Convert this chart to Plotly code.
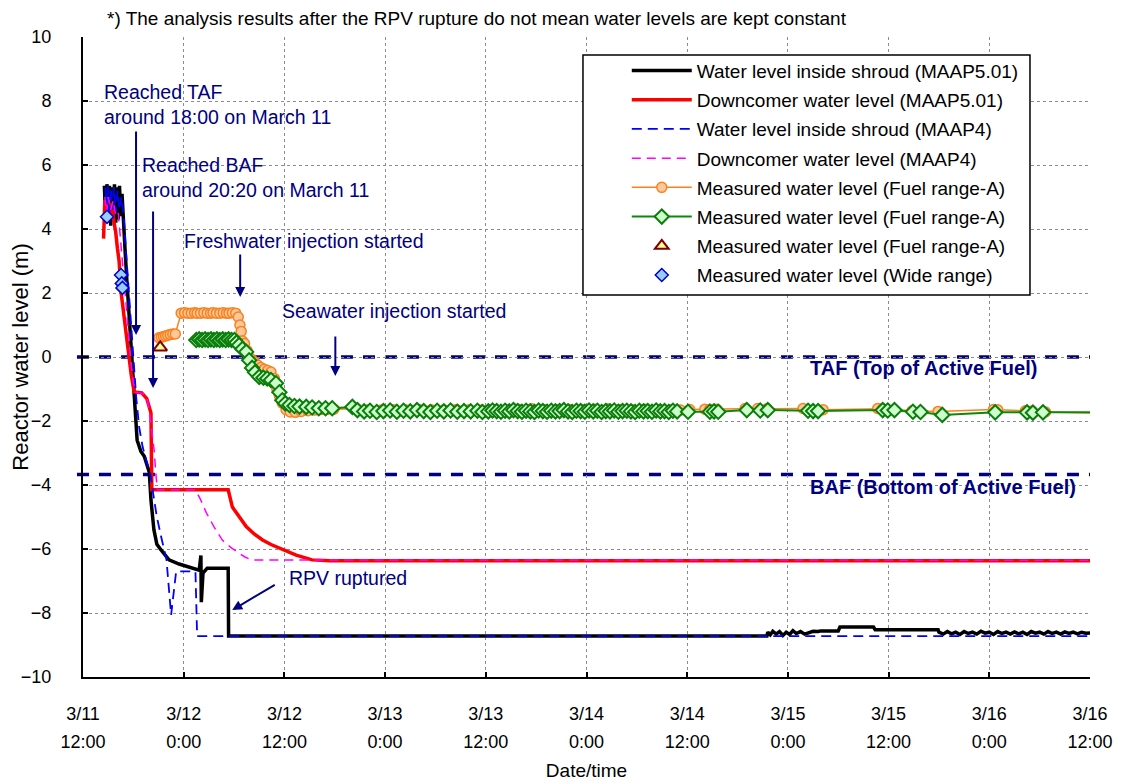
import plotly.graph_objects as go

# time axis: hours after 3/11 12:00
TICK_HOURS = [0, 12, 24, 36, 48, 60, 72, 84, 96, 108, 120]
TICK_DATES = ["3/11", "3/12", "3/12", "3/13", "3/13", "3/14", "3/14", "3/15", "3/15", "3/16", "3/16"]
TICK_TIMES = ["12:00", "0:00", "12:00", "0:00", "12:00", "0:00", "12:00", "0:00", "12:00", "0:00", "12:00"]

TAF_LEVEL = 0.0
BAF_LEVEL = -3.67

# Water level inside shroud (MAAP5.01)
shroud5_t = [2.55, 2.7, 2.85, 3.0, 3.15, 3.3, 3.45, 3.6, 3.75, 3.9, 4.05, 4.2, 4.35, 4.5, 4.65, 4.8,
             5.0, 5.2, 5.45, 5.65, 5.9, 6.1, 6.3, 6.45, 6.9, 7.3, 7.9, 8.1, 8.45, 8.8, 9.3, 10.25,
             11.45, 12.65, 13.85, 14.05, 14.1, 14.3, 14.8, 17.3, 17.35, 81.5,
             81.6, 81.9, 82.2, 82.6, 83.0, 83.4, 83.8, 84.2, 84.6, 85.0, 85.5, 86.0, 86.5, 87.0,
             87.6, 87.9, 90.0, 90.2, 94.2, 94.4, 101.9, 102.0,
             102.5, 103.0, 103.5, 104.0, 104.5, 105.0, 105.5, 106.0, 106.5, 107.0, 107.5, 108.0,
             108.5, 109.0, 109.5, 110.0, 110.5, 111.0, 111.5, 112.0, 112.5, 113.0, 113.5, 114.0,
             114.5, 115.0, 115.5, 116.0, 116.5, 117.0, 117.5, 118.0, 118.5, 119.0, 119.5, 120.5]
shroud5_v = [5.35, 4.2, 5.4, 4.5, 5.35, 4.1, 5.3, 4.4, 5.4, 4.2, 5.3, 4.3, 5.35, 4.4, 5.1, 4.1,
             3.4, 2.5, 1.5, 0.7, -0.2, -1.3, -2.2, -2.6, -2.95, -3.1, -3.6, -4.47, -5.4, -5.85, -6.03, -6.34,
             -6.47, -6.56, -6.66, -6.2, -7.66, -6.75, -6.6, -6.6, -8.72, -8.72,
             -8.6, -8.68, -8.57, -8.66, -8.58, -8.7, -8.6, -8.67, -8.55, -8.64, -8.58, -8.66, -8.6, -8.57,
             -8.58, -8.56, -8.56, -8.44, -8.44, -8.52, -8.52, -8.6,
             -8.66, -8.58, -8.65, -8.6, -8.67, -8.58, -8.64, -8.6, -8.66, -8.57, -8.63, -8.6,
             -8.67, -8.58, -8.64, -8.6, -8.66, -8.59, -8.65, -8.6, -8.67, -8.58, -8.63, -8.6,
             -8.66, -8.58, -8.64, -8.6, -8.66, -8.59, -8.64, -8.6, -8.65, -8.6, -8.63, -8.62]

# Downcomer water level (MAAP5.01)
down5_t = [2.45, 2.6, 2.8, 3.0, 3.2, 3.4, 3.7, 3.9, 4.1, 4.3, 4.55, 4.85, 5.15, 5.45, 5.75, 6.1,
           7.0, 7.6, 8.1, 8.2, 17.3, 17.8, 18.6, 19.45, 20.4, 21.4, 22.4, 23.4, 24.4, 25.4,
           26.4, 27.3, 29.4, 120.5]
down5_v = [3.7, 4.9, 4.4, 4.9, 4.5, 4.8, 4.2, 3.9, 3.4, 3.0, 2.0, 1.3, 0.7, 0.0, -0.56, -1.09,
           -1.12, -1.3, -1.75, -4.15, -4.15, -4.69, -5.0, -5.3, -5.53, -5.72, -5.86, -5.97, -6.09, -6.19,
           -6.27, -6.34, -6.37, -6.37]

# Water level inside shroud (MAAP4)
shroud4_t = [2.65, 2.8, 2.95, 3.1, 3.3, 3.5, 3.7, 3.9, 4.1, 4.3, 4.6, 4.9, 5.15, 5.4, 5.65, 5.9,
             6.1, 6.35, 6.7, 7.1, 7.6, 8.0, 8.3, 8.8, 9.3, 9.7, 9.95, 10.5, 11.1, 13.4, 13.6, 120.5]
shroud4_v = [5.3, 4.8, 5.35, 4.4, 5.3, 4.6, 5.3, 4.5, 5.2, 4.6, 5.0, 4.2, 3.2, 2.2, 1.2, 0.3,
             -0.5, -1.3, -2.2, -2.8, -3.3, -3.6, -4.16, -5.0, -5.6, -6.1, -6.34, -8.06, -6.7, -6.7, -8.72, -8.72]

# Downcomer water level (MAAP4)
down4_t = [2.6, 2.8, 3.0, 3.3, 3.6, 3.9, 4.2, 4.5, 4.8, 5.1, 5.4, 5.7, 6.0, 6.3, 7.2, 7.6,
           7.9, 8.2, 8.47, 8.7, 8.85, 13.4, 14.0, 14.7, 15.6, 16.6, 17.6, 18.6, 19.3, 20.1, 120.5]
down4_v = [5.0, 4.5, 5.0, 4.6, 4.9, 4.4, 4.5, 3.6, 2.6, 1.6, 0.7, -0.1, -0.8, -1.1, -1.15, -1.25,
           -1.66, -2.3, -2.9, -3.7, -4.15, -4.15, -4.45, -4.87, -5.3, -5.72, -5.95, -6.13, -6.25, -6.34, -6.35]

# Measured water level (Fuel range-A), circles
fuelA_t = [9.05, 9.35, 9.6, 9.85, 10.1, 10.4, 10.7, 11.0,
           11.7, 12.1, 12.5, 12.9, 13.3, 13.6, 14.0, 14.4, 14.8, 15.2, 15.5, 15.9, 16.3, 16.7,
           17.1, 17.4, 17.8, 18.2,
           18.5, 18.7, 18.85, 19.0, 19.25, 19.55, 19.8, 20.1, 20.4, 20.8, 21.2, 21.6, 22.0, 22.4,
           22.8, 23.1, 23.4, 23.75, 24.2, 24.7, 25.3, 26.0, 26.8, 27.6, 28.4, 29.2, 29.9,
           32.6, 34.0, 35.5, 37.0, 38.5, 40.0, 41.5, 43.0, 44.5, 46.0, 47.5, 49.0, 50.5, 52.0,
           53.5, 55.0, 56.5, 58.0, 59.5, 61.0, 62.5, 64.0, 65.5, 67.0, 68.5, 70.0, 71.2,
           72.3, 74.1, 74.7, 75.5, 78.9, 80.4, 81.5, 85.8, 88.2, 94.7, 95.3, 98.8, 101.9,
           108.5, 109.0, 112.3, 113.1, 114.7, 121.0]
fuelA_v = [0.6, 0.62, 0.64, 0.66, 0.68, 0.7, 0.72, 0.72,
           1.37, 1.38, 1.37, 1.37, 1.38, 1.37, 1.37, 1.38, 1.37, 1.37, 1.38, 1.37, 1.37, 1.38,
           1.37, 1.37, 1.38, 1.37,
           1.25, 1.0, 0.8, 0.5, 0.42, 0.2, 0.0, -0.08, -0.15, -0.25, -0.33, -0.38, -0.42, -0.47,
           -0.67, -1.0, -1.2, -1.44, -1.65, -1.72, -1.73, -1.7, -1.68, -1.66, -1.64, -1.63, -1.63,
           -1.62, -1.65, -1.66, -1.65, -1.66, -1.64, -1.65, -1.66, -1.64, -1.65, -1.66, -1.65, -1.66, -1.64,
           -1.62, -1.65, -1.66, -1.64, -1.65, -1.63, -1.62, -1.64, -1.65, -1.63, -1.64, -1.65, -1.66,
           -1.64, -1.63, -1.63, -1.63, -1.61, -1.61, -1.62, -1.61, -1.65, -1.61, -1.62, -1.68, -1.7,
           -1.64, -1.65, -1.68, -1.69, -1.72, -1.76]

# Measured water level (Fuel range-A), diamonds
fuelB_t = [13.5, 13.85, 14.2, 14.55, 14.9, 15.25, 15.6, 15.95, 16.3, 16.65, 17.0, 17.35, 17.7, 18.05,
           18.3, 18.6, 19.0, 19.45, 19.8, 20.15, 20.5, 21.0, 21.5, 21.95, 22.4, 23.0, 23.4, 23.75,
           24.1, 24.6, 25.2, 25.8, 26.6, 27.3, 28.1, 28.9, 29.7, 32.1,
           32.7, 33.5, 34.2, 35.0, 35.8, 36.6, 37.4, 38.2, 39.0, 39.8, 40.6, 41.4, 42.2, 43.0,
           43.8, 44.6, 45.4, 46.2, 47.0, 47.6, 48.3, 48.8, 49.3, 49.8, 50.3, 50.8, 51.3, 51.8,
           52.3, 52.8, 53.3, 53.8, 54.3, 54.8, 55.3, 55.8, 56.3, 56.8, 57.3, 57.8, 58.3, 58.8,
           59.3, 59.8, 60.3, 60.8, 61.3, 61.8, 62.3, 62.8, 63.3, 63.8, 64.3, 64.8, 65.3, 65.8,
           66.3, 66.8, 67.3, 67.8, 68.3, 68.8, 69.3, 69.8, 70.3, 70.8,
           72.1, 74.7, 75.2, 75.7, 79.1, 80.7, 81.6, 86.4, 87.0, 87.6, 95.3, 95.9, 96.7,
           98.9, 99.8, 102.4, 108.7, 112.5, 113.2, 114.4, 121.0]
fuelB_v = [0.53, 0.55, 0.53, 0.55, 0.53, 0.55, 0.53, 0.55, 0.53, 0.55, 0.53, 0.55, 0.53, 0.53,
           0.45, 0.37, 0.25, 0.16, -0.1, -0.34, -0.48, -0.62, -0.65, -0.67, -0.72, -0.82, -1.1, -1.35,
           -1.45, -1.5, -1.53, -1.55, -1.56, -1.58, -1.6, -1.6, -1.6, -1.56,
           -1.66, -1.7, -1.68, -1.72, -1.69, -1.67, -1.71, -1.68, -1.7, -1.66, -1.69, -1.72, -1.68, -1.7,
           -1.67, -1.71, -1.69, -1.7, -1.68, -1.72, -1.7, -1.67, -1.69, -1.71, -1.68, -1.7, -1.66, -1.69,
           -1.71, -1.68, -1.7, -1.72, -1.67, -1.69, -1.71, -1.68, -1.7, -1.69, -1.66, -1.7, -1.72, -1.68,
           -1.69, -1.71, -1.67, -1.7, -1.68, -1.72, -1.69, -1.7, -1.67, -1.71, -1.69, -1.68, -1.7, -1.72,
           -1.68, -1.7, -1.69, -1.71, -1.67, -1.7, -1.69, -1.72, -1.68, -1.7,
           -1.71, -1.71, -1.7, -1.71, -1.66, -1.67, -1.66, -1.68, -1.69, -1.69, -1.66, -1.67, -1.66,
           -1.71, -1.72, -1.81, -1.73, -1.73, -1.74, -1.73, -1.73]

# Measured water level (Fuel range-A), triangle
fuelC_t = [9.2]
fuelC_v = [0.3]

# Measured water level (Wide range)
wide_t = [2.86, 4.53, 4.62, 4.7]
wide_v = [4.38, 2.56, 2.3, 2.16]

FONT = "Liberation Sans, Arial, sans-serif"
NAVY = "#000080"

fig = go.Figure()
fig.add_trace(go.Scatter(x=shroud5_t, y=shroud5_v, mode="lines", name="Water level inside shroud (MAAP5.01)",
                         line=dict(color="black", width=3.5), legendgroup="a"))
fig.add_trace(go.Scatter(x=down5_t, y=down5_v, mode="lines", name="Downcomer water level (MAAP5.01)",
                         line=dict(color="#ff0000", width=3.5), legendgroup="b"))
fig.add_trace(go.Scatter(x=shroud4_t, y=shroud4_v, mode="lines", name="Water level inside shroud (MAAP4)",
                         line=dict(color="#0000ff", width=1.8, dash="10px,6px"), legendgroup="c"))
fig.add_trace(go.Scatter(x=down4_t, y=down4_v, mode="lines", name="Downcomer water level (MAAP4)",
                         line=dict(color="#ff00ff", width=1.5, dash="9px,6px"), legendgroup="d"))
fig.add_trace(go.Scatter(x=fuelA_t, y=fuelA_v, mode="lines+markers", name="Measured water level (Fuel range-A)",
                         line=dict(color="#f7821f", width=1.5),
                         marker=dict(symbol="circle", size=10, color="#ffc79a",
                                     line=dict(color="#f7821f", width=1.5)), legendgroup="e"))
fig.add_trace(go.Scatter(x=fuelB_t, y=fuelB_v, mode="lines+markers", name="Measured water level (Fuel range-A)",
                         line=dict(color="#0a8a0a", width=2),
                         marker=dict(symbol="diamond", size=11, color="#ccffcc",
                                     line=dict(color="#0a7d0a", width=2)), legendgroup="f"))
fig.add_trace(go.Scatter(x=fuelC_t, y=fuelC_v, mode="markers", name="Measured water level (Fuel range-A)",
                         marker=dict(symbol="triangle-up", size=12, color="#ffff99",
                                     line=dict(color="#800000", width=2)), legendgroup="g"))
fig.add_trace(go.Scatter(x=wide_t, y=wide_v, mode="markers", name="Measured water level (Wide range)",
                         marker=dict(symbol="diamond", size=10, color="#99ccff",
                                     line=dict(color="#0000cc", width=1.5)), legendgroup="h"))
# empty trace so that the second row of time labels (xaxis2) is drawn
fig.add_trace(go.Scatter(x=TICK_HOURS[:1], y=[None], xaxis="x2", showlegend=False, hoverinfo="skip"))

# TAF / BAF reference lines
for level in (TAF_LEVEL, BAF_LEVEL):
    fig.add_shape(type="line", xref="paper", yref="y", x0=-0.006, x1=1, y0=level, y1=level,
                  line=dict(color=NAVY, width=3.5, dash="12px,10px"), layer="between")

# legend frame
fig.add_shape(type="rect", xref="paper", yref="paper", x0=0.4965, x1=0.9404, y0=0.597, y1=0.972,
              fillcolor="white", line=dict(color="black", width=1.5), layer="above")

ann_font = dict(family=FONT, size=19.5, color=NAVY)
notes = [
    (2.5, 7.9, "Reached TAF<br>around 18:00 on March 11"),
    (7.04, 5.61, "Reached BAF<br>around 20:20 on March 11"),
    (12.05, 3.62, "Freshwater injection started"),
    (23.75, 1.44, "Seawater injection started"),
    (24.6, -6.9, "RPV ruptured"),
]
for x, y, txt in notes:
    fig.add_annotation(x=x, y=y, text=txt, showarrow=False, xanchor="left", yanchor="middle",
                       align="left", font=ann_font, xshift=-2)

arrows = [
    (6.32, 7.09, 6.32, 0.69),
    (8.35, 4.59, 8.35, -0.97),
    (18.73, 3.25, 18.73, 1.875),
    (30.07, 0.69, 30.07, -0.59),
    (23.03, -7.09, 17.78, -7.91),
]
for x0, y0, x1, y1 in arrows:
    fig.add_annotation(x=x1, y=y1, ax=x0, ay=y0, xref="x", yref="y", axref="x", ayref="y",
                       text="", showarrow=True, arrowhead=2, arrowsize=1, arrowwidth=2, arrowcolor=NAVY)

fig.add_annotation(x=86.4, y=-0.34, text="<b>TAF (Top of Active Fuel)</b>", showarrow=False,
                   xanchor="left", yanchor="middle", font=dict(family=FONT, size=20, color=NAVY))
fig.add_annotation(x=86.4, y=-4.06, text="<b>BAF (Bottom of Active Fuel)</b>", showarrow=False,
                   xanchor="left", yanchor="middle", font=dict(family=FONT, size=20, color=NAVY))
fig.add_annotation(x=0.0218, y=1.0, xref="paper", yref="paper", yshift=19,
                   text="*) The analysis results after the RPV rupture do not mean water levels are kept constant",
                   showarrow=False, xanchor="left", yanchor="middle",
                   font=dict(family=FONT, size=19, color="black"))

axis_common = dict(showline=True, linecolor="black", linewidth=2, ticks="inside", ticklen=5,
                   tickwidth=2, tickcolor="black", showgrid=True, gridcolor="#8c8c8c",
                   gridwidth=1, griddash="dot", zeroline=False, automargin=False)

# the page body adds an 8px offset, so the figure is 8px smaller than the window
fig.update_layout(
    width=1114, height=776,
    margin=dict(l=75, r=32, t=29, b=107),
    paper_bgcolor="white", plot_bgcolor="white",
    font=dict(family=FONT, size=18, color="black"),
    xaxis=dict(range=[0, 120], tickmode="array", tickvals=TICK_HOURS, ticktext=TICK_DATES,
               ticklabelstandoff=19, tickfont=dict(size=18),
               title=dict(text="Date/time", font=dict(size=19), standoff=41), **axis_common),
    xaxis2=dict(overlaying="x", matches="x", anchor="y", side="bottom", tickmode="array",
                tickvals=TICK_HOURS, ticktext=TICK_TIMES, ticklabelstandoff=52,
                tickfont=dict(size=18), showgrid=False, showline=False, ticks="", zeroline=False,
                automargin=False),
    yaxis=dict(range=[-10, 10], dtick=2, tickfont=dict(size=18), ticklabelstandoff=26,
               title=dict(text="Reactor water level (m)", font=dict(size=22), standoff=0),
               **axis_common),
    legend=dict(x=0.540, y=0.977, xanchor="left", yanchor="top", bgcolor="rgba(0,0,0,0)",
                borderwidth=0, font=dict(size=19), itemwidth=60, tracegroupgap=1.5),
)

fig.write_html("out.html")
